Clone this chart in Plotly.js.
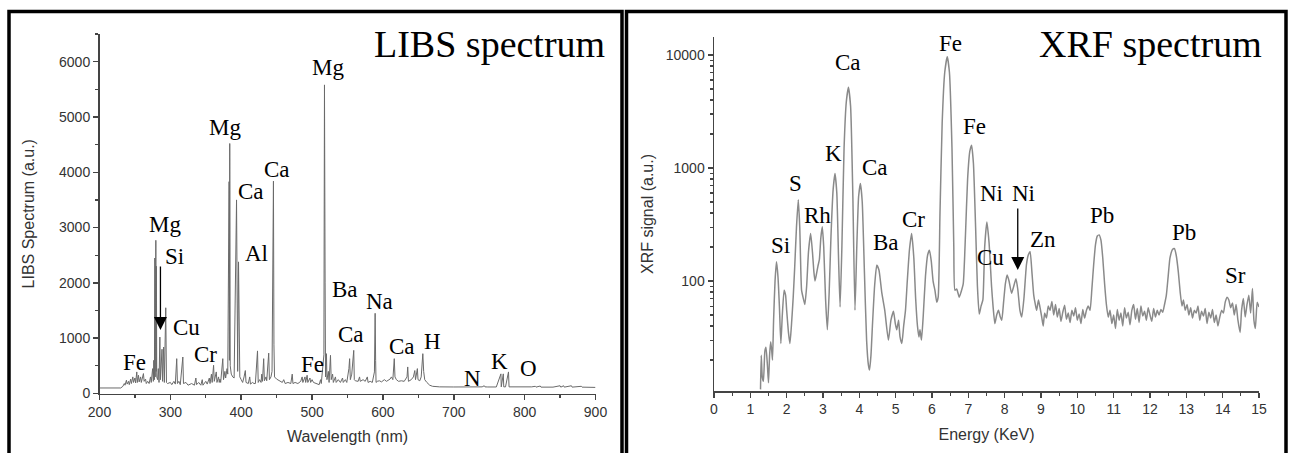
<!DOCTYPE html>
<html>
<head>
<meta charset="utf-8">
<script src="https://cdn.plot.ly/plotly-3.0.1.min.js"></script>
<style>
html,body{margin:0;padding:0;background:#fff;}
#chart{width:1295px;height:453px;}
</style>
</head>
<body>
<div id="chart"></div>
<script>
// LIBS spectrum: [wavelength (nm), intensity (a.u.)]
const libsPoints = [[200,100],[230,100],[233,130],[235,180],[236,150],[238,240],[239,170],[241,220],[242,160],[244,260],[245,180],[247,300],[248,200],[250,280],[251,190],[252.6,390],[253.5,200],[255,330],[256,210],[258,300],[259,200],[262,360],[263,220],[265,260],[266,180],[268,220],[270,180],[272,300],[273,200],[275,450],[276,220],[276.6,600],[277.5,250],[278.1,2450],[278.6,300],[279.5,2770],[280,400],[280.3,2300],[280.8,300],[282,250],[283,450],[284,200],[285.2,1020],[286,250],[288.2,800],[289,220],[290.5,840],[291.5,200],[293.5,1550],[294.5,200],[296,180],[300,200],[302,160],[305,220],[307,170],[309,630],[310,180],[312,220],[314,160],[317.6,660],[318.5,180],[322,200],[325,150],[330,180],[334,150],[336,280],[337,160],[340,200],[343,150],[345,250],[346,150],[350,220],[352,170],[355,280],[356,180],[358,350],[359,200],[361,510],[362,220],[364.8,390],[365.8,200],[368,300],[369,200],[370,260],[371,200],[374,630],[375,250],[377,400],[378,280],[380,450],[381,350],[382.9,3830],[383.4,600],[383.8,4520],[384.5,500],[386,350],[388,300],[390,280],[393.4,3500],[394.4,1050],[395,400],[396.2,2380],[397,600],[398,300],[400,250],[402,200],[404,300],[405.8,415],[406.8,200],[410,180],[412,300],[413,170],[416,200],[418,180],[420,180],[423,770],[424,200],[426,250],[428,200],[429,350],[430,220],[431.7,630],[432.7,230],[435,300],[436,230],[438.8,730],[439.8,250],[442,300],[443.5,400],[445.5,3840],[446.2,880],[447,300],[450,260],[455,220],[458,200],[460,250],[462,180],[466,200],[470,180],[472,350],[473,180],[476,200],[480,180],[484,220],[486,300],[487,200],[488,250],[490,300],[491,200],[493,330],[494,200],[497,280],[498,200],[500,250],[502,200],[505,180],[510,160],[512,250],[513,180],[516.7,700],[517.5,5580],[518.4,2000],[519,300],[520.3,720],[521,250],[523,400],[524,200],[526,690],[527,250],[529,350],[530,200],[533,300],[534,200],[537,250],[540,200],[543,280],[544,200],[547,250],[549,200],[552,450],[553,630],[554,250],[556,350],[558.8,780],[559.6,250],[561,230],[565,220],[567,300],[568,220],[572,250],[575,220],[578,300],[579,200],[582,220],[585,200],[588,390],[589,1450],[589.7,600],[590.3,200],[592,220],[595,230],[598,210],[602,250],[605,220],[610,260],[612,300],[614,250],[616,630],[617,300],[619,250],[622,220],[626,230],[630,220],[634,300],[635,480],[636,220],[640,250],[643,300],[645,415],[646,250],[648.6,450],[649.5,250],[652,230],[654,300],[656.3,720],[657.5,400],[659,250],[662,200],[666,150],[670,130],[680,120],[700,118],[720,118],[740,120],[743,140],[744,120],[748,118],[760,118],[766.5,355],[767,120],[769.9,355],[770.5,120],[773,120],[777.2,390],[778,120],[790,115],[800,115],[810,120],[815,130],[816,115],[822,135],[823,115],[840,115],[850,140],[851,115],[855,140],[856,115],[866,140],[867,115],[880,130],[881,115],[900,110]];

// XRF spectrum: [energy (keV), signal (a.u.)]
const xrfPoints = [[1.28,11],[1.30,22],[1.33,14],[1.36,13],[1.40,24],[1.43,26],[1.47,18],[1.50,12.6],[1.53,22],[1.56,29],[1.59,24],[1.61,20],[1.64,45],[1.68,100],[1.72,148],[1.76,110],[1.80,60],[1.84,28],[1.88,50],[1.93,83],[1.97,75],[2.00,55],[2.05,35],[2.09,28],[2.13,40],[2.18,72],[2.22,130],[2.27,300],[2.32,525],[2.36,300],[2.41,83],[2.45,72],[2.50,62],[2.55,90],[2.60,180],[2.66,263],[2.71,180],[2.75,120],[2.78,100],[2.82,115],[2.86,135],[2.90,155],[2.94,240],[2.98,302],[3.02,200],[3.07,70],[3.12,37],[3.17,80],[3.22,250],[3.28,650],[3.33,894],[3.38,600],[3.43,150],[3.47,59],[3.52,200],[3.58,1500],[3.64,3800],[3.70,5170],[3.76,3500],[3.82,600],[3.88,55],[3.93,200],[3.98,560],[4.03,730],[4.08,500],[4.14,120],[4.20,30],[4.25,18],[4.28,16.3],[4.32,22],[4.36,40],[4.42,90],[4.48,138],[4.54,125],[4.62,78],[4.70,55],[4.80,30],[4.87,45],[4.94,54],[4.99,42],[5.03,37],[5.08,45],[5.12,32],[5.17,28],[5.22,40],[5.27,55],[5.32,100],[5.38,190],[5.44,263],[5.50,160],[5.55,70],[5.60,40],[5.64,32],[5.67,37],[5.71,30],[5.76,50],[5.82,110],[5.88,170],[5.93,187],[5.98,150],[6.03,100],[6.08,83],[6.13,65],[6.17,72],[6.22,400],[6.28,2500],[6.35,7000],[6.42,9660],[6.48,7000],[6.55,1500],[6.60,200],[6.63,83],[6.68,85],[6.75,72],[6.80,80],[6.86,95],[6.92,250],[6.98,800],[7.04,1400],[7.09,1590],[7.14,1100],[7.20,300],[7.25,90],[7.30,51],[7.35,60],[7.40,68],[7.45,200],[7.51,333],[7.57,220],[7.64,89],[7.68,60],[7.73,42],[7.78,50],[7.83,55],[7.88,48],[7.92,45],[7.97,65],[8.02,95],[8.07,113],[8.12,100],[8.19,78],[8.25,90],[8.31,105],[8.36,85],[8.42,55],[8.47,48],[8.53,70],[8.60,140],[8.65,170],[8.70,182],[8.75,120],[8.80,75],[8.84,63],[8.88,55],[8.93,68],[8.97,59],[9.02,48],[9.06,40],[9.10,52],[9.15,47],[9.20,60],[9.25,55],[9.30,66],[9.35,50],[9.40,62],[9.45,48],[9.50,57],[9.55,44],[9.60,53],[9.65,61],[9.70,46],[9.75,52],[9.80,43],[9.85,55],[9.90,49],[9.95,58],[10.00,45],[10.05,51],[10.10,42],[10.15,56],[10.20,47],[10.25,55],[10.30,60],[10.35,55],[10.40,85],[10.45,140],[10.50,210],[10.55,250],[10.60,256],[10.65,230],[10.70,160],[10.75,95],[10.80,62],[10.85,48],[10.90,55],[10.95,42],[11.00,50],[11.05,38],[11.10,56],[11.15,45],[11.20,52],[11.25,40],[11.30,58],[11.35,47],[11.40,53],[11.45,41],[11.50,55],[11.55,62],[11.60,46],[11.65,57],[11.70,43],[11.75,60],[11.80,49],[11.85,54],[11.90,45],[11.95,58],[12.00,50],[12.05,44],[12.10,57],[12.15,48],[12.20,55],[12.25,50],[12.30,56],[12.35,53],[12.40,62],[12.45,75],[12.50,110],[12.55,160],[12.62,190],[12.67,194],[12.72,170],[12.78,120],[12.83,80],[12.88,60],[12.92,68],[12.97,55],[13.02,62],[13.07,50],[13.12,58],[13.17,47],[13.22,55],[13.27,52],[13.32,60],[13.37,45],[13.42,54],[13.47,49],[13.52,57],[13.57,42],[13.62,53],[13.67,47],[13.72,56],[13.77,43],[13.82,50],[13.87,40],[13.92,48],[13.97,55],[14.02,52],[14.07,65],[14.12,72],[14.17,68],[14.22,58],[14.27,64],[14.32,50],[14.37,62],[14.42,45],[14.48,35],[14.52,55],[14.57,70],[14.62,48],[14.67,62],[14.72,75],[14.77,52],[14.82,86],[14.86,45],[14.90,38],[14.95,65],[15.00,59]];

// Tick labels
const libsXTicks = [200,300,400,500,600,700,800,900];
const libsYTicks = [0,1000,2000,3000,4000,5000,6000];
const xrfXTicks = [0,1,2,3,4,5,6,7,8,9,10,11,12,13,14,15];
const xrfYTicks = [100,1000,10000];
const xrfYTickText = ['100','1000','10000'];

// Element labels
const libsLabels = ['Fe','Mg','Si','Cu','Cr','Mg','Ca','Ca','Al','Mg','Fe','Ba','Na','Ca','Ca','H','N','K','O'];
const xrfLabels = ['Si','S','Rh','K','Ca','Ca','Ba','Cr','Fe','Fe','Ni','Ni','Cu','Zn','Pb','Pb','Sr'];

// ---- layout / placement ----
const libsLabelPos = [[248.8,552],[292.6,3047],[305.4,2474],[322.3,1193],[349.2,714],[377.5,4801],[414.3,3649],[450.6,4042],[421,2535],[522.4,5886],[500.5,533],[545.8,1872],[595.3,1660],[555.3,1058],[627.4,846],[670.2,937],[726.4,280],[764,582],[805.7,456]];
const xrfLabelPos = [[1.82,2.318],[2.24,2.865],[2.85,2.584],[3.28,3.124],[3.70,3.93],[4.44,3.004],[4.73,2.34],[5.50,2.54],[6.51,4.10],[7.17,3.37],[7.64,2.77],[8.53,2.77],[7.61,2.21],[9.06,2.37],[10.67,2.58],[12.94,2.425],[14.35,2.05]];

const W = 1295, H = 453;
const px = v => v / W;
const py = v => (H - v) / H;

const serif = 'Liberation Serif, Times New Roman, serif';
const sans = 'Liberation Sans, Arial, sans-serif';

const traces = [
  {x: libsPoints.map(p=>p[0]), y: libsPoints.map(p=>p[1]), type:'scatter', mode:'lines',
   line:{color:'#6a6a6a', width:1}, xaxis:'x', yaxis:'y', hoverinfo:'skip'},
  {x: xrfPoints.map(p=>p[0]), y: xrfPoints.map(p=>p[1]), type:'scatter', mode:'lines',
   line:{color:'#8a8a8a', width:1.5, shape:'spline', smoothing:0.5}, xaxis:'x2', yaxis:'y2', hoverinfo:'skip'}
];

const axisCommon = {
  showline:true, linecolor:'#444', linewidth:1.5, ticks:'outside', ticklen:5, tickwidth:1.5,
  tickcolor:'#444', showgrid:false, zeroline:false,
  tickfont:{family:sans, size:14, color:'#333'}
};

const minorY = [];
[10,100,1000].forEach(d => { for (let k=2;k<=9;k++) minorY.push(k*d); });

const annotations = [];
libsLabels.forEach((t,i)=>annotations.push({text:t, x:libsLabelPos[i][0], y:libsLabelPos[i][1], xref:'x', yref:'y', xanchor:'center', yanchor:'middle', showarrow:false, font:{family:serif, size:23, color:'#000'}}));
xrfLabels.forEach((t,i)=>annotations.push({text:t, x:xrfLabelPos[i][0], y:xrfLabelPos[i][1], xref:'x2', yref:'y2', xanchor:'center', yanchor:'middle', showarrow:false, font:{family:serif, size:23, color:'#000'}}));
annotations.push({text:'LIBS spectrum', x:px(489), y:py(44), xref:'paper', yref:'paper', xanchor:'center', yanchor:'middle', showarrow:false, font:{family:serif, size:38, color:'#000'}});
annotations.push({text:'XRF spectrum', x:px(1150), y:py(44), xref:'paper', yref:'paper', xanchor:'center', yanchor:'middle', showarrow:false, font:{family:serif, size:38, color:'#000'}});
annotations.push({text:'', x:286, y:1148, xref:'x', yref:'y', showarrow:true, ax:0, ay:-65, arrowhead:2, arrowsize:2, arrowwidth:1.3, arrowcolor:'#000'});
annotations.push({text:'', x:8.36, y:2.097, xref:'x2', yref:'y2', showarrow:true, ax:0, ay:-63, arrowhead:2, arrowsize:2, arrowwidth:1.3, arrowcolor:'#000'});

const layout = {
  width:W, height:H, margin:{l:0,r:0,t:0,b:0}, paper_bgcolor:'#fff', plot_bgcolor:'rgba(0,0,0,0)',
  showlegend:false,
  xaxis: Object.assign({}, axisCommon, {domain:[px(99.5), px(595.5)], range:[200,900], anchor:'y',
    tickvals: libsXTicks, minor:{ticks:'outside', ticklen:3, dtick:50, tick0:200, tickcolor:'#444', tickwidth:1.2},
    title:{text:'Wavelength (nm)', font:{family:sans, size:16, color:'#333'}, standoff:12}}),
  yaxis: Object.assign({}, axisCommon, {domain:[py(393.5), py(34)], range:[0,6500], anchor:'x',
    tickvals: libsYTicks, minor:{ticks:'outside', ticklen:3, dtick:500, tick0:0, tickcolor:'#444', tickwidth:1.2},
    title:{text:'LIBS Spectrum (a.u.)', font:{family:sans, size:16, color:'#333'}, standoff:20}}),
  xaxis2: Object.assign({}, axisCommon, {domain:[px(714), px(1259)], range:[0,15], anchor:'y2',
    tickvals: xrfXTicks, minor:{ticks:'outside', ticklen:3, dtick:0.5, tick0:0, tickcolor:'#444', tickwidth:1.2},
    title:{text:'Energy (KeV)', font:{family:sans, size:16, color:'#333'}, standoff:12}}),
  yaxis2: Object.assign({}, axisCommon, {domain:[py(391), py(37)], type:'log', range:[1.027,4.159], anchor:'x2',
    tickvals: xrfYTicks, ticktext: xrfYTickText, minor:{ticks:'outside', ticklen:3, tickvals:minorY, tickcolor:'#444', tickwidth:1.2},
    title:{text:'XRF signal (a.u.)', font:{family:sans, size:16, color:'#333'}, standoff:8}}),
  annotations: annotations,
  shapes: [
    {type:'rect', xref:'paper', yref:'paper', x0:px(9), x1:px(622), y0:py(470), y1:py(11.5), line:{color:'#000', width:3.5}},
    {type:'rect', xref:'paper', yref:'paper', x0:px(626.5), x1:px(1286), y0:py(470), y1:py(11.5), line:{color:'#000', width:3.5}}
  ]
};

Plotly.newPlot('chart', traces, layout, {staticPlot:true, displayModeBar:false});
</script>
</body>
</html>
